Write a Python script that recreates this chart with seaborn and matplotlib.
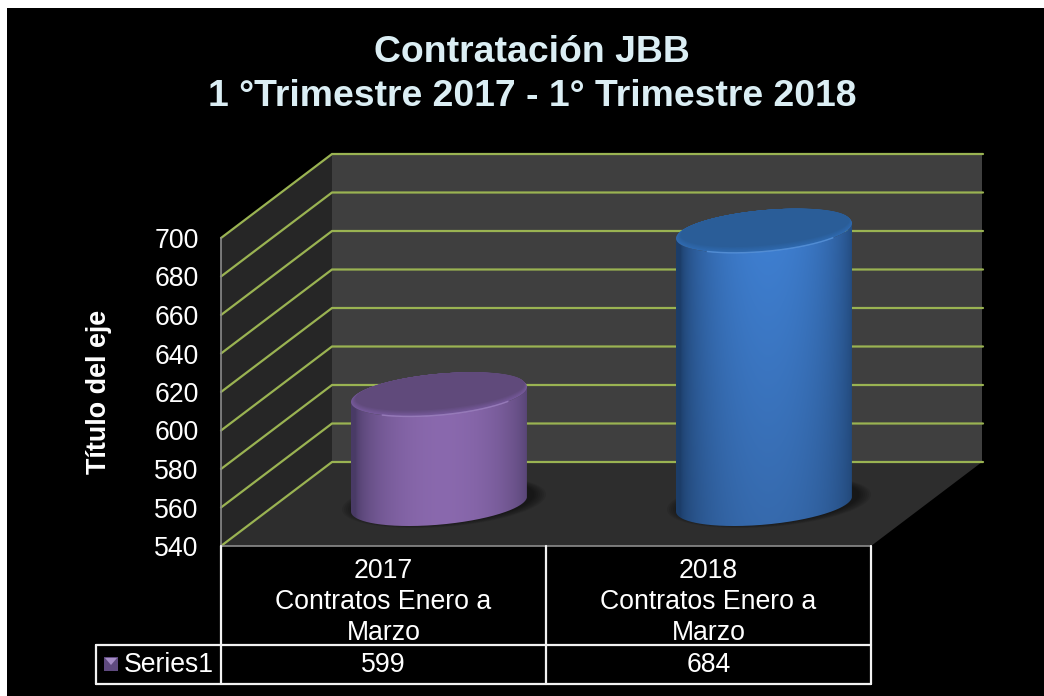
import numpy as np
import pandas as pd
import matplotlib
matplotlib.use("Agg")
import matplotlib.pyplot as plt
import seaborn as sns
from matplotlib.colors import to_rgb
from matplotlib.patches import Polygon, Rectangle
from matplotlib.path import Path
from matplotlib.transforms import Affine2D

title_lines = ["Contratación JBB", "1 °Trimestre 2017 - 1° Trimestre 2018"]
categories = ["2017\nContratos Enero a\nMarzo", "2018\nContratos Enero a\nMarzo"]
values = [599, 684]
y_ticks = [540, 560, 580, 600, 620, 640, 660, 680, 700]
y_label = "Título del eje"
series_name = "Series1"

W, H = 1044, 696
LEFT, RIGHT, TOP, BOTTOM = 221, 871, 238, 546   # front plane of the 3d box, in pixels
DEPTH_X, DEPTH_Y = 111, 84                      # front plane to back wall
CYL_X, CYL_Y = 55.5, 38                         # bars sit half way back
BAR_A, BAR_B, BAR_K = 88, 20.7, 7.5             # ellipse radii and tilt
FONT = 19.2

GRID = "#9ab352"
TEXT = "white"
EDGE = "#f2f2f2"

sns.set_theme(style="white", rc={"figure.figsize": (W / 100, H / 100), "figure.dpi": 100,
                                 "savefig.dpi": 100})
plt.rcParams["font.family"] = ["Liberation Sans", "DejaVu Sans"]

fig = plt.figure(facecolor="white")
fig.patches.append(Rectangle((7 / W, 0), 1 - 7 / W, 1 - 8 / H, transform=fig.transFigure,
                             facecolor="black", edgecolor="none", zorder=-5))
ax = fig.add_axes([LEFT / W, 1 - BOTTOM / H, (RIGHT - LEFT) / W, (BOTTOM - TOP) / H])

df = pd.DataFrame({"cat": categories, "value": values})
sns.barplot(data=df, x="cat", y="value", hue="cat", legend=False, width=0.54, ax=ax,
            palette=["#8064a2", "#3a70b8"], zorder=5)
ax.set_xlim(-0.5, 1.5)
ax.set_ylim(y_ticks[0], y_ticks[-1])
ax.patch.set_alpha(0)
for s in ["top", "right"]:
    ax.spines[s].set_visible(False)
for s in ["left", "bottom"]:
    ax.spines[s].set_color("#8c8c8c")
    ax.spines[s].set_linewidth(1.2)

bars = sorted(ax.patches, key=lambda r: r.get_x())

back = ax.transData + Affine2D().translate(DEPTH_X, DEPTH_Y)
front = ax.transData


def box_poly(pts, color, z):
    # pts are (x, y, depth 0/1) in data units
    disp = [(back if d else front).transform((x, y)) for x, y, d in pts]
    p = Polygon(disp, closed=True, transform=None, facecolor=color, edgecolor="none", zorder=z,
                clip_on=False)
    ax.add_artist(p)


x0, x1 = ax.get_xlim()
y0, y1 = ax.get_ylim()
box_poly([(x0, y0, 1), (x1, y0, 1), (x1, y1, 1), (x0, y1, 1)], "#3f3f3f", 0.1)
box_poly([(x0, y0, 0), (x0, y0, 1), (x0, y1, 1), (x0, y1, 0)], "#262626", 0.1)
box_poly([(x0, y0, 0), (x1, y0, 0), (x1, y0, 1), (x0, y0, 1)], "#2d2d2d", 0.1)

for t in y_ticks:
    a = front.transform((x0, t))
    b = back.transform((x0, t))
    c = back.transform((x1, t))
    ax.plot([a[0], b[0], c[0] + 1], [a[1], b[1], c[1]], transform=None, color=GRID, lw=1.6,
            zorder=0.5, clip_on=False, solid_joinstyle="miter")


def ellipse(cx, cy, a=BAR_A, b=BAR_B, k=BAR_K, t0=0, t1=2 * np.pi, n=200):
    t = np.linspace(t0, t1, n)
    return np.column_stack([cx + a * np.cos(t), cy + b * np.sin(t) + k * np.cos(t)])


# (edge, middle) of the body top and bottom, cap, cap rim, cap highlight
looks = [
    dict(edge=(0.29, 0.23, 0.40), mid_top=(0.54, 0.41, 0.68), mid_bot=(0.54, 0.41, 0.68),
         cap="#604a7b", rim="#75599a", light="#a084c4"),
    dict(edge=(0.11, 0.24, 0.41), mid_top=(0.25, 0.51, 0.84), mid_bot=(0.21, 0.41, 0.67),
         cap="#2a5d98", rim="#2f6ab0", light="#5a97e0"),
]

for bar, look in zip(bars, looks):
    bar.set_visible(False)
    xc = bar.get_x() + bar.get_width() / 2
    top = front.transform((xc, bar.get_height()))
    base = front.transform((xc, y0))
    cx = top[0] + CYL_X
    cy_top = top[1] + CYL_Y
    cy_base = base[1] + CYL_Y + 4  # floor contact sits a bit forward of the scale

    # soft shadow on the floor
    for i in range(7):
        grow = 14 - 2 * i
        shadow = ellipse(cx + 5, cy_base + 2, a=BAR_A + grow, b=BAR_B + grow * 0.3)
        ax.add_artist(Polygon(shadow, transform=None, facecolor="black", edgecolor="none", alpha=0.08,
                              zorder=1, clip_on=False))

    # body, gradient clipped to the cylinder outline
    lower = ellipse(cx, cy_base, t0=0, t1=-np.pi)
    outline = np.vstack([ellipse(cx, cy_top, t0=np.pi, t1=2 * np.pi), lower])
    clip = Path(np.vstack([outline, outline[0]]))

    nx, ny = 180, 60
    u = np.abs(np.linspace(-1, 1, nx) - 0.05)[None, :, None]
    shade = (1 - np.clip(u, 0, 1) ** 2.0) ** 0.6
    v = np.linspace(0, 1, ny)[:, None, None]
    mid = np.array(look["mid_top"]) * (1 - v) + np.array(look["mid_bot"]) * v
    img = np.array(look["edge"]) * (1 - shade) + mid * shade
    im = ax.imshow(img, origin="upper", aspect="auto", interpolation="bilinear",
                   extent=(cx - BAR_A, cx + BAR_A, cy_base - 40, cy_top + 40),
                   transform=Affine2D(), zorder=3)
    im.set_clip_box(fig.bbox)
    im.set_clip_path(clip, Affine2D())

    # cap, rim fades into the flat top
    steps = 5
    rim, cap = np.array(to_rgb(look["rim"])), np.array(to_rgb(look["cap"]))
    for i in range(steps + 1):
        f = i / steps
        ax.add_artist(Polygon(ellipse(cx + f, cy_top + 3 * f, a=BAR_A - 3.5 * f, b=BAR_B - 3 * f),
                              transform=None, facecolor=rim * (1 - f) + cap * f, edgecolor="none",
                              zorder=4 + 0.01 * i, clip_on=False))
    arc = ellipse(cx, cy_top, t0=-0.5 * np.pi - 0.7, t1=-0.5 * np.pi + 0.9)
    ax.plot(arc[:, 0], arc[:, 1], transform=None, color=look["light"], lw=1, alpha=0.8,
            zorder=4.2, clip_on=False)

ax.set_xlim(x0, x1)
ax.set_ylim(y0, y1)

ax.set_xlabel("")
ax.set_ylabel(y_label, fontsize=19.4, fontweight="bold", color=TEXT, labelpad=0)
ax.yaxis.set_label_coords(-109 / (RIGHT - LEFT), 0.5)
ax.set_yticks(y_ticks)
ax.tick_params(axis="y", labelsize=FONT, labelcolor=TEXT, pad=16, length=0)
ax.tick_params(axis="x", labelsize=FONT, labelcolor=TEXT, pad=9, length=0)
ax.set_xticks(range(len(categories)))
ax.set_xticklabels(categories, linespacing=1.24)


# data table under the plot
def hline(xa, xb, y, color=EDGE, lw=1.6):
    fig.add_artist(plt.Line2D([xa / W, xb / W], [1 - y / H, 1 - y / H], color=color, lw=lw))


def vline(x, ya, yb, color=EDGE, lw=1.6):
    fig.add_artist(plt.Line2D([x / W, x / W], [1 - ya / H, 1 - yb / H], color=color, lw=lw))


for x in [LEFT, (LEFT + RIGHT) / 2, RIGHT]:
    vline(x, BOTTOM, 684)
hline(96, RIGHT, 645)
hline(96, RIGHT, 684)
vline(96, 645, 684)

for i, v in enumerate(values):
    px = ax.transData.transform((i, y0))[0]
    fig.text(px / W, 1 - 665.5 / H, str(v), color=TEXT, fontsize=FONT, ha="center", va="center")

fig.text(124 / W, 1 - 665.5 / H, series_name, color=TEXT, fontsize=FONT, ha="left", va="center")
fig.patches.append(Rectangle((104 / W, 1 - 671 / H), 14 / W, 14 / H, transform=fig.transFigure,
                             facecolor="#5f4a7f", edgecolor="none"))
fig.patches.append(Polygon([(105 / W, 1 - 658 / H), (117 / W, 1 - 658 / H), (111 / W, 1 - 665 / H)],
                           transform=fig.transFigure, facecolor="#a58cc6", edgecolor="none"))

fig.text(532 / W, 1 - 53 / H, title_lines[0], color="#dbeef4", fontsize=26.9, fontweight="bold",
         ha="center", va="center")
fig.text(532 / W, 1 - 97 / H, title_lines[1], color="#dbeef4", fontsize=26.9, fontweight="bold",
         ha="center", va="center")

fig.savefig("out.png", dpi=100, facecolor=fig.get_facecolor())
